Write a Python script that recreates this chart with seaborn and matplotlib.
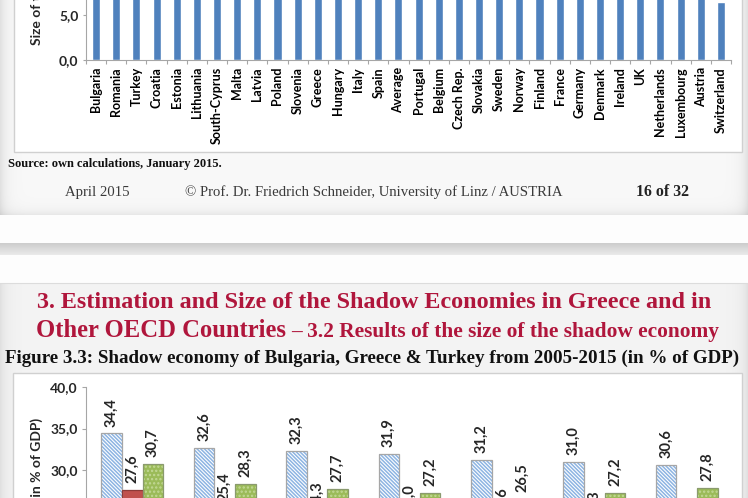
import numpy as np
import pandas as pd
import matplotlib
matplotlib.use("Agg")
import matplotlib.pyplot as plt
import seaborn as sns
from matplotlib.patches import Rectangle

# ---------------- data ----------------
countries = ["Bulgaria", "Romania", "Turkey", "Croatia", "Estonia", "Lithuania",
             "South-Cyprus", "Malta", "Latvia", "Poland", "Slovenia", "Greece",
             "Hungary", "Italy", "Spain", "Average", "Portugal", "Belgium",
             "Czech Rep.", "Slovakia", "Sweden", "Norway", "Finland", "France",
             "Germany", "Denmark", "Ireland", "UK", "Netherlands", "Luxembourg",
             "Austria", "Switzerland"]
shadow_2015 = [30.6, 28.0, 27.8, 27.7, 26.2, 25.8, 25.2, 24.0, 23.6, 23.3, 23.3,
               22.4, 21.9, 20.6, 18.2, 18.3, 17.6, 16.2, 15.1, 14.1, 13.2, 13.0,
               12.4, 12.3, 12.2, 11.6, 11.3, 9.4, 9.0, 8.3, 8.2, 6.5]
y1_ticks = [0, 5, 10, 15, 20, 25, 30, 35]

years = ["2005", "2010", "2011", "2012", "2013", "2014", "2015"]
bulgaria = [34.4, 32.6, 32.3, 31.9, 31.2, 31.0, 30.6]
greece = [27.6, 25.4, 24.3, 24.0, 23.6, 23.3, 22.4]
turkey = [30.7, 28.3, 27.7, 27.2, 26.5, 27.2, 27.8]
y2_ticks = [0, 5, 10, 15, 20, 25, 30, 35, 40]

def dec(v):
    return f"{v:.1f}".replace(".", ",")

sns.set_theme(style="white")
plt.rcParams["font.family"] = ["Lato", "DejaVu Sans"]
plt.rcParams["hatch.linewidth"] = 1.1

W, H = 748, 498
fig = plt.figure(figsize=(W / 100, H / 100), dpi=100)

# ---------------- slide background ----------------
bg = fig.add_axes([0, 0, 1, 1])
bg.set_xlim(0, W)
bg.set_ylim(H, 0)
bg.axis("off")
yy, xx = np.mgrid[0:H, 0:W] + 0.5
edge = np.minimum(xx, W - xx)
img = np.ones((H, W)) * 0.995
img_top = 0.975 - 0.10 * np.exp(-edge / 6) - 0.07 * np.exp(-(215 - yy) / 5)
img = np.where(yy < 215, img_top, img)
img = np.where((yy >= 243) & (yy < 255), 0.80 + 0.12 * (yy - 243) / 12, img)
img_s2 = 0.955 - 0.08 * np.exp(-edge / 6)
img = np.where(yy >= 283, img_s2, img)
img = np.clip(img, 0, 1)
bg.imshow(np.dstack([img] * 3), extent=[0, W, H, 0], aspect="auto",
          interpolation="bilinear", zorder=0)
bg.plot([0, W], [283, 283], color="#dcdcdc", lw=0.8, zorder=1)
bg.add_patch(Rectangle((14, -5), 728, 157, fc="white", ec="#d0d0d0", lw=1, zorder=2))
bg.add_patch(Rectangle((13, 373), 729, 140, fc="white", ec="#d0d0d0", lw=1, zorder=2))

# ---------------- top chart ----------------
ax1 = fig.add_axes([86 / W, (H - 60) / H, 645 / W, 315 / H])
ax1.patch.set_alpha(0)
sns.barplot(x=countries, y=shadow_2015, color="#4f81bd", saturation=1,
            width=0.4, ax=ax1, errorbar=None)
ax1.set_xlim(-0.5, len(countries) - 0.5)
ax1.set_ylim(0, 35)
ax1.set_yticks(y1_ticks)
ax1.set_yticklabels([dec(v) for v in y1_ticks], fontsize=10, fontweight="bold")
ax1.set_xticks(range(len(countries)))
ax1.set_xticklabels(countries, rotation=90, fontsize=9, fontweight="bold")
ax1.set_xticks(np.arange(-0.5, len(countries), 1), minor=True)
ax1.tick_params(axis="x", which="major", length=0, pad=5, colors="black")
ax1.tick_params(axis="x", which="minor", length=3, width=0.8, color="#a6a6a6",
                direction="out", bottom=True)
ax1.tick_params(axis="y", length=2.5, width=0.8, color="#a6a6a6", pad=3,
                direction="out", left=True)
for s in ["top", "right"]:
    ax1.spines[s].set_visible(False)
for s in ["left", "bottom"]:
    ax1.spines[s].set_color("#a6a6a6")
    ax1.spines[s].set_linewidth(0.8)
ax1.set_xlabel("")
ax1.set_ylabel("")
bg.text(37, 45, "Size of the Shadow Economy (in % of off. GDP)", rotation=90,
        ha="center", va="bottom", fontsize=10, fontweight="bold", zorder=5)

# ---------------- second chart ----------------
df = pd.DataFrame({
    "year": years * 3,
    "country": ["Bulgaria"] * len(years) + ["Greece"] * len(years) + ["Turkey"] * len(years),
    "value": bulgaria + greece + turkey,
})
ax2 = fig.add_axes([86 / W, (H - 719) / H, 647 / W, 332 / H])
ax2.patch.set_alpha(0)
sns.barplot(data=df, x="year", y="value", hue="country",
            palette=["#ffffff", "#c0504d", "#9bbb59"], saturation=1,
            width=0.67, gap=0, legend=False, ax=ax2, errorbar=None)
ax2.set_ylim(0, 40)
ax2.set_yticks(y2_ticks)
ax2.set_yticklabels([dec(v) for v in y2_ticks], fontsize=10, fontweight="bold")
ax2.tick_params(axis="y", length=3, width=0.8, color="#a6a6a6", pad=3,
                direction="out", left=True)
for s in ["top", "right"]:
    ax2.spines[s].set_visible(False)
for s in ["left", "bottom"]:
    ax2.spines[s].set_color("#a6a6a6")
    ax2.spines[s].set_linewidth(0.8)
ax2.set_xlabel("")
ax2.set_ylabel("")

styles = [
    dict(fc="white", hatch="\\" * 9, hc="#8db4e2", oc="#a6a6a6"),
    dict(fc="#c0504d", hatch=None, hc="#c0504d", oc="#8c3a38"),
    dict(fc="#9bbb59", hatch="....", hc="#c3d896", oc="#8a9a6e"),
]
for cont, st in zip(ax2.containers, styles):
    for p in cont:
        p.set_facecolor(st["fc"])
        p.set_edgecolor(st["hc"])
        p.set_linewidth(0)
        if st["hatch"]:
            p.set_hatch(st["hatch"])
        ax2.add_patch(Rectangle(p.get_xy(), p.get_width(), p.get_height(),
                                fill=False, ec=st["oc"], lw=0.9, zorder=3))
    ax2.bar_label(cont, labels=[dec(v) for v in cont.datavalues], rotation=90,
                  padding=5, fontsize=10.5, fontweight="bold")

bg.text(37, 418, "Size of the Shadow Economy (in % of GDP)", rotation=90,
        ha="center", va="top", fontsize=10, fontweight="bold", zorder=5)

# ---------------- slide texts ----------------
serif = ["Liberation Serif", "DejaVu Serif"]
red = "#b0163c"
fig.canvas.draw()
rend = fig.canvas.get_renderer()


def fit(t, target_w):
    w = t.get_window_extent(rend).width
    t.set_fontsize(t.get_fontsize() * target_w / w)
    return t


t = bg.text(8, 167, "Source: own calculations, January 2015.", family=serif,
            fontweight="bold", fontsize=9, color="#111111", zorder=5)
fit(t, 214)
t = bg.text(65, 196, "April 2015", family=serif, fontsize=10, color="#3a3a3a", zorder=5)
fit(t, 64)
t = bg.text(185, 196, "© Prof. Dr. Friedrich Schneider, University of Linz / AUSTRIA",
            family=serif, fontsize=10, color="#3a3a3a", zorder=5)
fit(t, 376)
t = bg.text(636, 196, "16 of 32", family=serif, fontweight="bold", fontsize=9,
            color="#222222", zorder=5)
fit(t, 53)

t = bg.text(37, 308, "3. Estimation and Size of the Shadow Economies in Greece and in",
            family=serif, fontweight="bold", fontsize=17, color=red, zorder=5)
fit(t, 675)
big = t.get_fontsize()
t = bg.text(36, 337, "Other OECD Countries", family=serif, fontweight="bold",
            fontsize=big, color=red, zorder=5)
fit(t, 250)
t = bg.text(291, 337, "– 3.2 Results of the size of the shadow economy", family=serif,
            fontweight="bold", fontsize=13, color=red, zorder=5)
fit(t, 425)
t = bg.text(5, 363, "Figure 3.3: Shadow economy of Bulgaria, Greece & Turkey from 2005-2015 (in % of GDP)",
            family=serif, fontweight="bold", fontsize=12, color="#111111", zorder=5)
fit(t, 733)

fig.savefig("out.png", dpi=100)
